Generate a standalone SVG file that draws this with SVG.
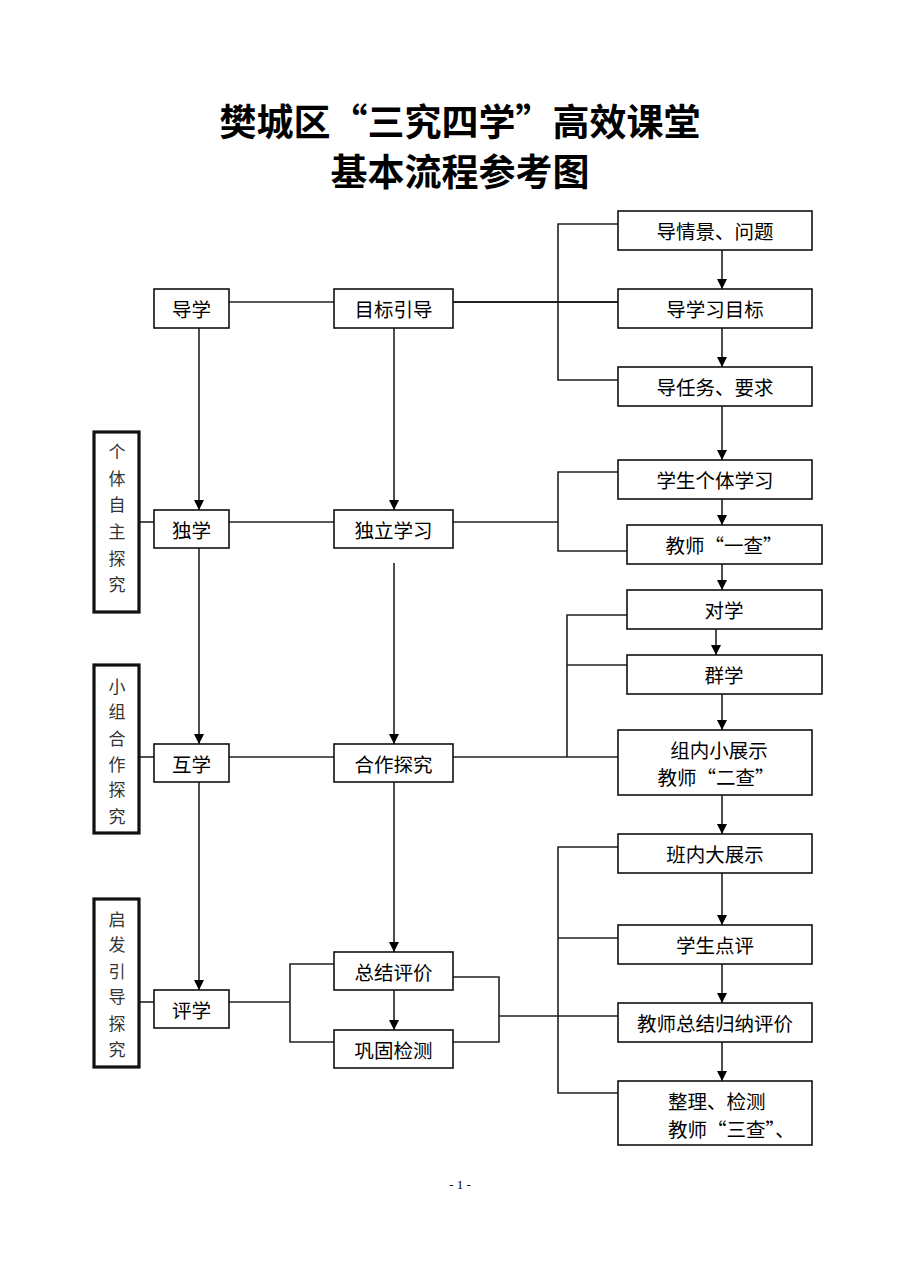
<svg xmlns="http://www.w3.org/2000/svg" width="920" height="1274" viewBox="0 0 920 1274">
<style>
.box{fill:#fff;stroke:#111;stroke-width:1.6}
.side{fill:#fff;stroke:#111;stroke-width:3.2}
.t{font-family:"Noto Sans CJK SC","Liberation Sans",sans-serif;font-size:19.5px;fill:#000;text-anchor:middle;dominant-baseline:central}
.s{font-family:"Noto Sans CJK SC","Liberation Sans",sans-serif;font-size:17px;fill:#333;text-anchor:middle;dominant-baseline:central}
.title{font-family:"Noto Sans CJK SC","Liberation Sans",sans-serif;font-size:37px;font-weight:bold;fill:#000;text-anchor:middle}
.ln{fill:none;stroke:#222;stroke-width:1.6}
.ar{fill:none;stroke:#222;stroke-width:1.6;marker-end:url(#ah)}
</style>
<defs>
<marker id="ah" markerUnits="userSpaceOnUse" markerWidth="10" markerHeight="10" refX="10" refY="5" orient="auto" viewBox="0 0 10 10">
<path d="M0,0 L10,5 L0,10 Z" fill="#000"/>
</marker>
</defs>
<rect width="920" height="1274" fill="#fff"/>
<text class="title" x="460" y="136">樊城区“三究四学”高效课堂</text>
<text class="title" x="460" y="186">基本流程参考图</text>

<g id="connectors">
<path class="ln" d="M229,302 H334"/>
<path class="ln" d="M453,302 H618" style="stroke-width:2.2"/>
<path class="ln" d="M618,224 H558 V380 H618"/>
<path class="ln" d="M139,522 H154"/>
<path class="ln" d="M229,522 H334"/>
<path class="ln" d="M453,522 H558"/>
<path class="ln" d="M618,472 H558 V551 H627"/>
<path class="ln" d="M139,757 H154"/>
<path class="ln" d="M229,757 H334"/>
<path class="ln" d="M453,757 H618"/>
<path class="ln" d="M627,615 H567 V757"/>
<path class="ln" d="M567,665 H627"/>
<path class="ln" d="M139,1002 H154"/>
<path class="ln" d="M229,1002 H290"/>
<path class="ln" d="M334,964 H290 V1042 H334"/>
<path class="ln" d="M453,977 H499 V1042 H453"/>
<path class="ln" d="M499,1016 H618"/>
<path class="ln" d="M618,847 H558 V1093 H618"/>
<path class="ln" d="M558,938 H618"/>
<path class="ar" d="M199,327 V510"/>
<path class="ar" d="M199,548 V744"/>
<path class="ar" d="M199,782 V990"/>
<path class="ar" d="M394,327 V510"/>
<path class="ar" d="M394,563 V744"/>
<path class="ar" d="M394,782 V952"/>
<path class="ar" d="M394,990 V1030"/>
<path class="ar" d="M722,250 V289"/>
<path class="ar" d="M722,328 V367"/>
<path class="ar" d="M722,406 V460"/>
<path class="ar" d="M722,499 V525"/>
<path class="ar" d="M722,564 V590"/>
<path class="ar" d="M716,629 V655"/>
<path class="ar" d="M722,694 V730"/>
<path class="ar" d="M722,795 V834"/>
<path class="ar" d="M722,873 V925"/>
<path class="ar" d="M722,964 V1003"/>
<path class="ar" d="M722,1042 V1081"/>
</g>

<g id="n-daoxue"><rect class="box" x="154" y="289" width="75" height="39"/><text class="t" x="191.5" y="308.5">导学</text></g>
<g id="n-mubiao"><rect class="box" x="334" y="289" width="119" height="39"/><text class="t" x="393.5" y="308.5">目标引导</text></g>
<g id="n-qingjing"><rect class="box" x="618" y="211" width="194" height="39"/><text class="t" x="715" y="230.5">导情景、问题</text></g>
<g id="n-xuexi"><rect class="box" x="618" y="289" width="194" height="39"/><text class="t" x="715" y="308.5">导学习目标</text></g>
<g id="n-renwu"><rect class="box" x="618" y="367" width="194" height="39"/><text class="t" x="715" y="386.5">导任务、要求</text></g>

<g id="n-side1"><rect class="side" x="94" y="432" width="45" height="180"/>
<text class="s" x="117" y="450">个</text><text class="s" x="117" y="477">体</text><text class="s" x="117" y="503">自</text><text class="s" x="117" y="530">主</text><text class="s" x="117" y="557">探</text><text class="s" x="117" y="583">究</text></g>
<g id="n-duxue"><rect class="box" x="154" y="510" width="75" height="38"/><text class="t" x="191.5" y="529">独学</text></g>
<g id="n-duli"><rect class="box" x="334" y="510" width="119" height="38"/><text class="t" x="393.5" y="529">独立学习</text></g>
<g id="n-geti"><rect class="box" x="618" y="460" width="194" height="39"/><text class="t" x="715" y="479.5">学生个体学习</text></g>
<g id="n-yicha"><rect class="box" x="627" y="525" width="195" height="39"/><text class="t" x="724" y="544.5">教师“一查”</text></g>
<g id="n-duixue"><rect class="box" x="627" y="590" width="195" height="39"/><text class="t" x="724" y="609.5">对学</text></g>
<g id="n-qunxue"><rect class="box" x="627" y="655" width="195" height="39"/><text class="t" x="724" y="674.5">群学</text></g>

<g id="n-side2"><rect class="side" x="94" y="665" width="45" height="168"/>
<text class="s" x="117" y="685">小</text><text class="s" x="117" y="710">组</text><text class="s" x="117" y="737">合</text><text class="s" x="117" y="763">作</text><text class="s" x="117" y="788">探</text><text class="s" x="117" y="815">究</text></g>
<g id="n-huxue"><rect class="box" x="154" y="744" width="75" height="38"/><text class="t" x="191.5" y="763">互学</text></g>
<g id="n-hezuo"><rect class="box" x="334" y="744" width="119" height="38"/><text class="t" x="393.5" y="763">合作探究</text></g>
<g id="n-zunei"><rect class="box" x="618" y="730" width="194" height="65"/><text class="t" x="719" y="749">组内小展示</text><text class="t" x="716" y="776">教师“二查”</text></g>

<g id="n-side3"><rect class="side" x="94" y="899" width="45" height="168"/>
<text class="s" x="117" y="918">启</text><text class="s" x="117" y="943">发</text><text class="s" x="117" y="970">引</text><text class="s" x="117" y="995">导</text><text class="s" x="117" y="1022">探</text><text class="s" x="117" y="1048">究</text></g>
<g id="n-pingxue"><rect class="box" x="154" y="990" width="75" height="38"/><text class="t" x="191.5" y="1009">评学</text></g>
<g id="n-zongjie"><rect class="box" x="334" y="952" width="119" height="38"/><text class="t" x="393.5" y="971">总结评价</text></g>
<g id="n-gonggu"><rect class="box" x="334" y="1030" width="119" height="38"/><text class="t" x="393.5" y="1049">巩固检测</text></g>
<g id="n-banei"><rect class="box" x="618" y="834" width="194" height="39"/><text class="t" x="715" y="853.5">班内大展示</text></g>
<g id="n-dianping"><rect class="box" x="618" y="925" width="194" height="39"/><text class="t" x="715" y="944.5">学生点评</text></g>
<g id="n-guina"><rect class="box" x="618" y="1003" width="194" height="39"/><text class="t" x="715" y="1022.5">教师总结归纳评价</text></g>
<g id="n-zhengli"><rect class="box" x="618" y="1081" width="194" height="64"/><text class="t" x="668" y="1100" style="text-anchor:start">整理、检测</text><text class="t" x="668" y="1128" style="text-anchor:start">教师“三查”、</text></g>

<text x="460" y="1189" style="font-family:'Liberation Serif',serif;font-size:13px;fill:#000;text-anchor:middle">- 1 -</text>
</svg>
